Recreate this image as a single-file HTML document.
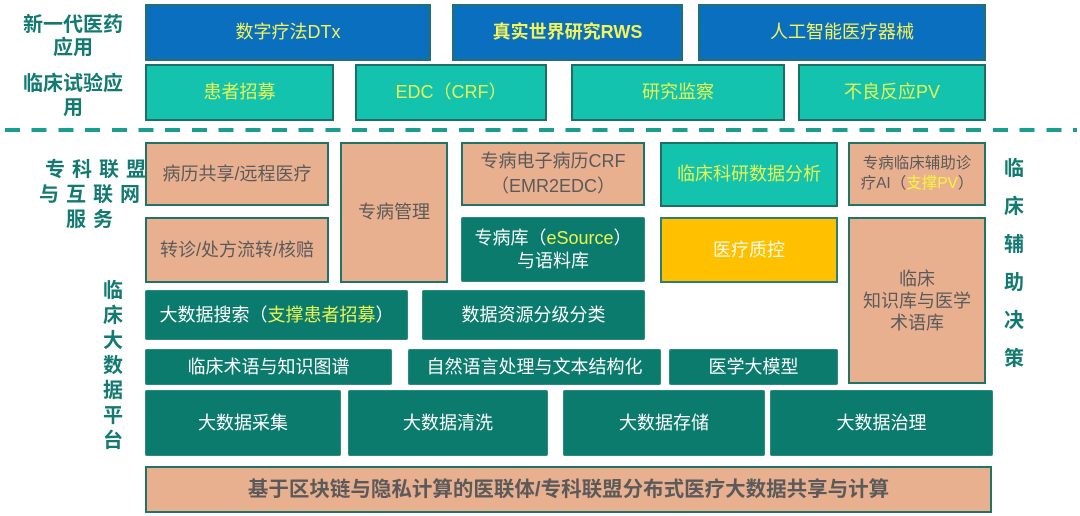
<!DOCTYPE html>
<html><head><meta charset="utf-8">
<style>
html,body{margin:0;padding:0;background:#fff;}
body{width:1080px;height:516px;position:relative;overflow:hidden;font-family:"Liberation Sans","Noto Sans CJK SC",sans-serif;}
.b{position:absolute;box-sizing:border-box;display:flex;align-items:center;justify-content:center;text-align:center;font-size:18px;line-height:1.25;white-space:nowrap;}
.blue{background:#0a6fbf;border:2px solid #22706f;color:#f3f35a;}
.lt{background:#14c3ae;border:2px solid #1c6f66;color:#e6f552;}
.sal{background:#e9b090;border:2.5px solid #1f7466;color:#5a5a5a;}
.dk{background:#0a7b6d;border:1px solid #2a8b7e;color:#fff;border-radius:2px;}
.yel{background:#ffc000;border:2px solid #2a8070;color:#fffbe8;}
.y{color:#e9f552;}
.lab{position:absolute;color:#127a70;font-weight:bold;font-size:20px;text-align:center;white-space:nowrap;}
.v{position:absolute;color:#127a70;font-weight:bold;font-size:20px;width:30px;text-align:center;}
.dash{position:absolute;left:5px;top:128px;width:1072px;height:4px;background:repeating-linear-gradient(to right,#1a9e8f 0,#1a9e8f 15px,transparent 15px,transparent 26.7px);}
</style></head><body>

<!-- left top labels -->
<div class="lab" style="left:13px;top:14px;width:120px;line-height:23px;">新一代医药<br>应用</div>
<div class="lab" style="left:13px;top:72px;width:120px;line-height:24px;">临床试验应<br>用</div>

<!-- row 1 -->
<div class="b blue" style="left:145px;top:4px;width:286px;height:57px;">数字疗法DTx</div>
<div class="b blue" style="left:452px;top:4px;width:231px;height:57px;font-weight:bold;">真实世界研究RWS</div>
<div class="b blue" style="left:698px;top:4px;width:288px;height:57px;">人工智能医疗器械</div>

<!-- row 2 -->
<div class="b lt" style="left:145px;top:64px;width:189px;height:57px;">患者招募</div>
<div class="b lt" style="left:355px;top:64px;width:192px;height:57px;">EDC（CRF）</div>
<div class="b lt" style="left:571px;top:64px;width:214px;height:57px;">研究监察</div>
<div class="b lt" style="left:798px;top:64px;width:188px;height:57px;">不良反应PV</div>

<div class="dash"></div>

<!-- 专科联盟 label -->
<div class="lab" style="left:38px;top:158px;width:110px;line-height:25px;letter-spacing:7px;text-indent:7px;">专科联盟<br>与互联网<br>服务</div>

<!-- row 3/4 -->
<div class="b sal" style="left:145px;top:142px;width:184px;height:64px;">病历共享/远程医疗</div>
<div class="b sal" style="left:145px;top:217px;width:184px;height:66px;">转诊/处方流转/核赔</div>
<div class="b sal" style="left:340px;top:142px;width:108px;height:141px;">专病管理</div>
<div class="b sal" style="left:461px;top:142px;width:184px;height:64px;line-height:25px;">专病电子病历CRF<br>（EMR2EDC）</div>
<div class="b dk" style="left:461px;top:217px;width:184px;height:65px;line-height:23px;"><div>专病库（<span class="y">eSource</span>）<br>与语料库</div></div>
<div class="b lt" style="left:660px;top:142px;width:178px;height:65px;">临床科研数据分析</div>
<div class="b yel" style="left:660px;top:217px;width:178px;height:66px;">医疗质控</div>
<div class="b sal" style="left:848px;top:142px;width:138px;height:64px;font-size:15.5px;line-height:20px;"><div>专病临床辅助诊<br>疗AI（<span style="color:#f5f53a">支撑PV</span>）</div></div>
<div class="b sal" style="left:848px;top:217px;width:138px;height:167px;line-height:22px;">临床<br>知识库与医学<br>术语库</div>

<!-- right vertical label -->
<div class="v" style="left:999px;top:150px;line-height:38px;">临<br>床<br>辅<br>助<br>决<br>策</div>

<!-- left vertical label -->
<div class="v" style="left:98px;top:279px;line-height:25px;">临<br>床<br>大<br>数<br>据<br>平<br>台</div>

<!-- row 5 -->
<div class="b dk" style="left:145px;top:290px;width:263px;height:50px;"><div>大数据搜索（<span class="y">支撑患者招募</span>）</div></div>
<div class="b dk" style="left:422px;top:290px;width:223px;height:50px;">数据资源分级分类</div>

<!-- row 6 -->
<div class="b dk" style="left:145px;top:349px;width:247px;height:36px;">临床术语与知识图谱</div>
<div class="b dk" style="left:408px;top:349px;width:253px;height:36px;">自然语言处理与文本结构化</div>
<div class="b dk" style="left:669px;top:349px;width:169px;height:36px;">医学大模型</div>

<!-- row 7 -->
<div class="b dk" style="left:145px;top:390px;width:196px;height:66px;">大数据采集</div>
<div class="b dk" style="left:348px;top:390px;width:200px;height:66px;">大数据清洗</div>
<div class="b dk" style="left:563px;top:390px;width:202px;height:66px;">大数据存储</div>
<div class="b dk" style="left:770px;top:390px;width:223px;height:66px;">大数据治理</div>

<!-- bottom -->
<div class="b sal" style="left:145px;top:466px;width:847px;height:47px;font-weight:bold;font-size:20.5px;">基于区块链与隐私计算的医联体/专科联盟分布式医疗大数据共享与计算</div>

</body></html>
